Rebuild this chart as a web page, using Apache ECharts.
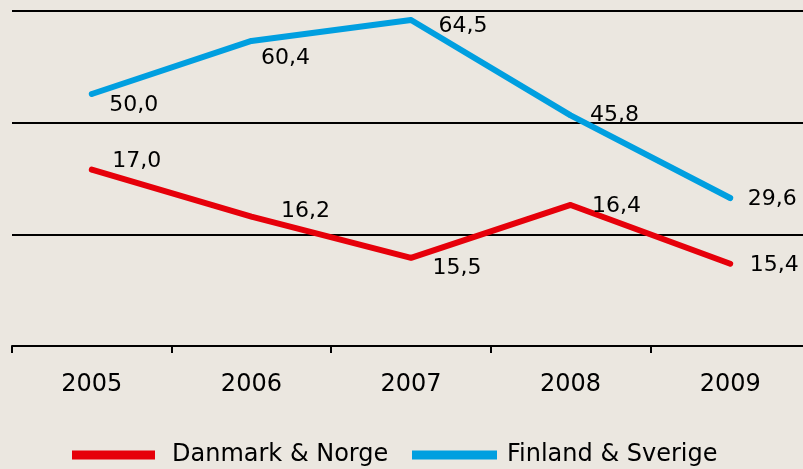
<!DOCTYPE html>
<html>
<head>
<meta charset="UTF-8">
<title>Danmark & Norge / Finland & Sverige</title>
<script src="https://cdn.jsdelivr.net/npm/echarts@6/dist/echarts.min.js"></script>
<style>
  html, body { margin: 0; padding: 0; background: #ebe7e0; }
  #main { width: 803px; height: 469px; }
</style>
</head>
<body>
<div id="main"></div>
<script>
// data
var years = ['2005', '2006', '2007', '2008', '2009'];
var danmarkNorge = [17.0, 16.2, 15.5, 16.4, 15.4];
var finlandSverige = [50.0, 60.4, 64.5, 45.8, 29.6];
var seriesNames = ['Danmark & Norge', 'Finland & Sverige'];

// label nudges (dx, dy) so they sit like the original
var redOffsets = [[13, -8], [22, -5], [14, 10], [14, 1], [12, 2]];
var blueOffsets = [[10, 11], [2, 17], [20, 6], [12, 0], [10, 1]];

var font = 'DejaVu Sans, Verdana, sans-serif';
var red = '#e6000a';
var blue = '#009fe0';
// plain box for the legend swatch (stretched, so square ends)
var box = 'path://M0,0L10,0L10,10L0,10Z';

function fmt(v) {
    return v.toFixed(1).replace('.', ',');
}

function withLabels(values, offsets) {
    return values.map(function (v, i) {
        return { value: v, label: { offset: offsets[i] } };
    });
}

function legendItem(name, color) {
    return {
        name: name, icon: box, symbolKeepAspect: false,
        itemStyle: { color: color, borderWidth: 0, borderColor: color }
    };
}

var chart = echarts.init(document.getElementById('main'));

var legendText = { fontFamily: font, fontSize: 24, color: '#000', lineHeight: 28 };

chart.setOption({
    animation: false,
    backgroundColor: '#ebe7e0',
    textStyle: { fontFamily: font, color: '#000' },
    // plot runs past the right edge of the picture
    grid: { left: 12, width: 798, top: 11, bottom: 123, outerBoundsMode: 'none', containLabel: false },
    legend: [
        {
            data: [legendItem(seriesNames[0], red)],
            left: 72, top: 441, padding: 0,
            itemWidth: 83, itemHeight: 9, symbolKeepAspect: false,
            textStyle: Object.assign({ padding: [0, 0, 0, 12] }, legendText)
        },
        {
            data: [legendItem(seriesNames[1], blue)],
            left: 412, top: 441, padding: 0,
            itemWidth: 85, itemHeight: 9, symbolKeepAspect: false,
            textStyle: Object.assign({ padding: [0, 0, 0, 5] }, legendText)
        }
    ],
    xAxis: {
        type: 'category',
        data: years,
        axisLine: { lineStyle: { color: '#000', width: 2 } },
        axisTick: { show: true, length: 7, lineStyle: { color: '#000', width: 2 } },
        axisLabel: { fontFamily: font, fontSize: 24, color: '#000', margin: 27 }
    },
    yAxis: [
        {
            // only for the horizontal rules
            type: 'value', min: 0, max: 3, interval: 1,
            axisLine: { show: false }, axisTick: { show: false }, axisLabel: { show: false },
            splitLine: { lineStyle: { color: '#000', width: 2 } }
        },
        { type: 'value', min: 14.0, max: 19.7, show: false, splitLine: { show: false } },
        { type: 'value', min: 0.58, max: 66.27, show: false, splitLine: { show: false } }
    ],
    series: [
        {
            name: seriesNames[0],
            type: 'line',
            yAxisIndex: 1,
            data: withLabels(danmarkNorge, redOffsets),
            symbol: 'circle', symbolSize: 5,
            itemStyle: { color: red },
            lineStyle: { color: red, width: 6, cap: 'round', join: 'round' },
            label: {
                show: true, position: 'right', fontFamily: font, fontSize: 22, color: '#000',
                formatter: function (p) { return fmt(p.value); }
            }
        },
        {
            name: seriesNames[1],
            type: 'line',
            yAxisIndex: 2,
            data: withLabels(finlandSverige, blueOffsets),
            symbol: 'circle', symbolSize: 5,
            itemStyle: { color: blue },
            lineStyle: { color: blue, width: 6, cap: 'round', join: 'round' },
            label: {
                show: true, position: 'right', fontFamily: font, fontSize: 22, color: '#000',
                formatter: function (p) { return fmt(p.value); }
            }
        }
    ]
});
</script>
</body>
</html>
